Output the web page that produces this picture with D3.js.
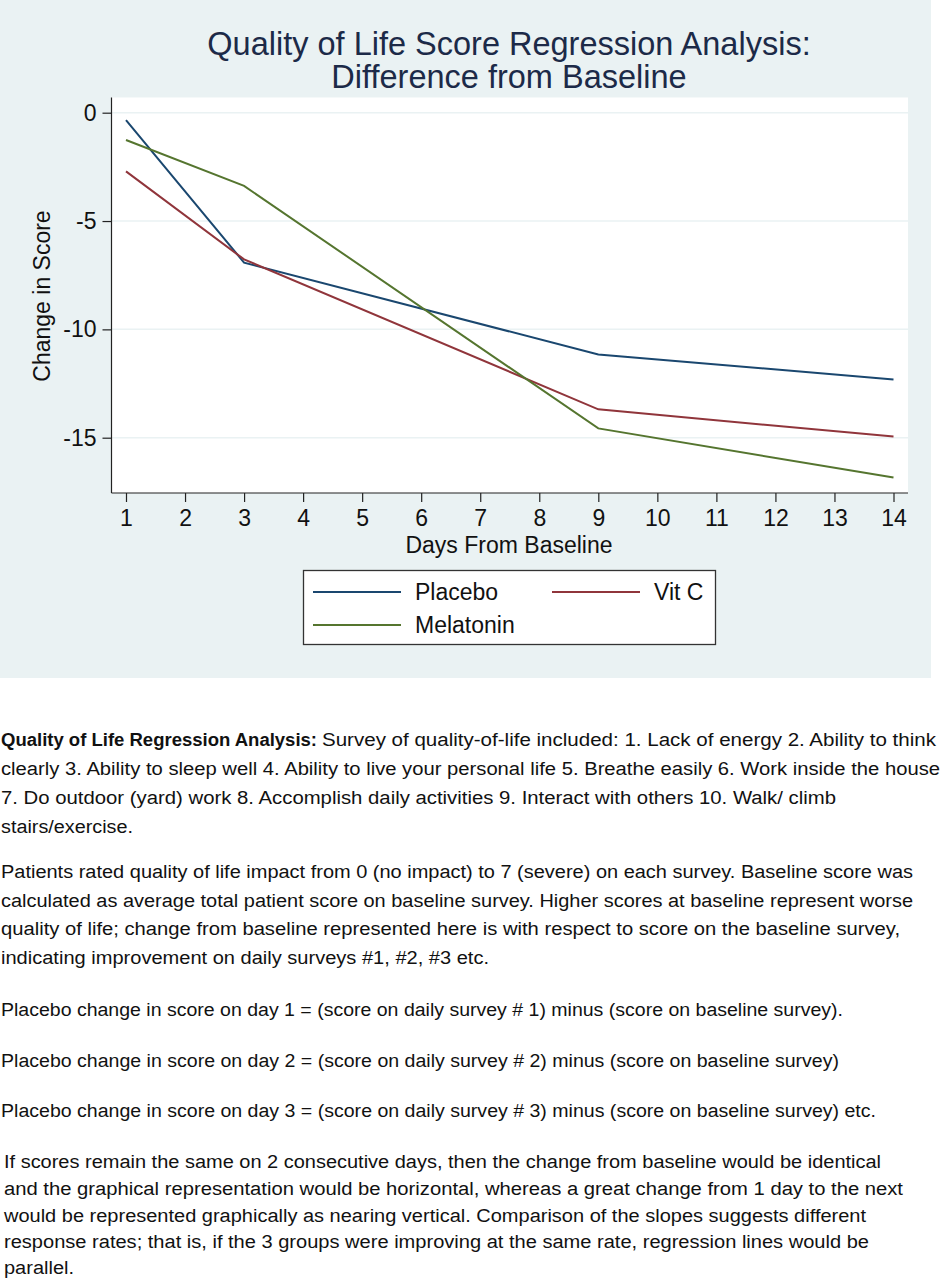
<!DOCTYPE html>
<html>
<head>
<meta charset="utf-8">
<script src="https://cdn.jsdelivr.net/npm/d3@7"></script>
<style>
  body { margin: 0; background: #ffffff; }
  svg { display: block; }
</style>
</head>
<body>
<svg id="viz"></svg>
<script>

// data (knots at days 1, 3, 9, 14)
var days = [1, 3, 9, 14];
var placebo = [-0.34, -6.92, -11.16, -12.31];
var vitC = [-2.71, -6.77, -13.69, -14.95];
var melatonin = [-1.26, -3.38, -14.57, -16.84];

var seriesNames = ["Placebo", "Vit C", "Melatonin"];
var seriesColors = ["#1a476f", "#90353b", "#55752f"];

var xTicks = [1, 2, 3, 4, 5, 6, 7, 8, 9, 10, 11, 12, 13, 14];
var yTicks = [0, -5, -10, -15];

var titleLines = ["Quality of Life Score Regression Analysis:", "Difference from Baseline"];
var xTitle = "Days From Baseline";
var yTitle = "Change in Score";

// text under the chart, one entry per printed line
var noteBold = "Quality of Life Regression Analysis:";
var noteLines = [
  "Survey of quality-of-life included: 1. Lack of energy 2. Ability to think",
  "clearly 3. Ability to sleep well 4. Ability to live your personal life 5. Breathe easily 6. Work inside the house",
  "7. Do outdoor (yard) work 8. Accomplish daily activities 9. Interact with others 10. Walk/ climb",
  "stairs/exercise.",
  "Patients rated quality of life impact from 0 (no impact) to 7 (severe) on each survey. Baseline score was",
  "calculated as average total patient score on baseline survey. Higher scores at baseline represent worse",
  "quality of life; change from baseline represented here is with respect to score on the baseline survey,",
  "indicating improvement on daily surveys #1, #2, #3 etc.",
  "Placebo change in score on day 1 = (score on daily survey # 1) minus (score on baseline survey).",
  "Placebo change in score on day 2 = (score on daily survey # 2) minus (score on baseline survey)",
  "Placebo change in score on day 3 = (score on daily survey # 3) minus (score on baseline survey) etc.",
  "If scores remain the same on 2 consecutive days, then the change from baseline would be identical",
  "and the graphical representation would be horizontal, whereas a great change from 1 day to the next",
  "would be represented graphically as nearing vertical. Comparison of the slopes suggests different",
  "response rates; that is, if the 3 groups were improving at the same rate, regression lines would be",
  "parallel."
];

// layout of those lines: [left, right, baseline]
var noteLayout = [
  [322, 936, 746], [1, 940, 775], [1, 836, 804], [1, 133, 833],
  [1, 913, 878], [1, 913, 907], [1, 900, 935], [1, 489, 964],
  [1, 843, 1016],
  [1, 839, 1067],
  [1, 876, 1117],
  [4, 881, 1168], [4, 903, 1195], [4, 866, 1222], [4, 869, 1248], [4, 74, 1274]
];

var width = 945;
var height = 1280;

var plotLeft = 111.5, plotRight = 908, plotTop = 97.5, plotBottom = 493;

var svg = d3.select("#viz")
  .attr("width", width)
  .attr("height", height);

// graph region
svg.append("rect")
  .attr("x", 0).attr("y", 0)
  .attr("width", 931).attr("height", 678)
  .attr("fill", "#eaf2f3");

// plot region
svg.append("rect")
  .attr("x", plotLeft).attr("y", plotTop)
  .attr("width", plotRight - plotLeft).attr("height", plotBottom - plotTop)
  .attr("fill", "#ffffff");

var x = d3.scaleLinear().domain([1, 14]).range([126, 893.5]);
var y = d3.scaleLinear().domain([0, -15]).range([112.7, 437.7]);

// grid
svg.append("g").selectAll("line")
  .data(yTicks).enter()
  .append("line")
  .attr("x1", plotLeft).attr("x2", plotRight)
  .attr("y1", function(d) { return y(d); })
  .attr("y2", function(d) { return y(d); })
  .attr("stroke", "#eaf2f3")
  .attr("stroke-width", 1.5);

// Title
svg.append("g").selectAll("text")
  .data(titleLines).enter()
  .append("text")
  .attr("x", 509)
  .attr("y", function(d, i) { return 55 + i * 33; })
  .attr("text-anchor", "middle")
  .style("font-family", "'Liberation Sans', Arial, sans-serif")
  .style("font-size", "32.5px")
  .attr("fill", "#1c2a48")
  .text(function(d) { return d; });

// Y axis
var yAxis = svg.append("g")
  .attr("transform", "translate(" + plotLeft + ",0)")
  .call(d3.axisLeft(y).tickValues(yTicks).tickSize(9).tickPadding(6)
    .tickFormat(function(d) { return String(d); }));
yAxis.select(".domain").remove();
yAxis.selectAll(".tick line").attr("stroke", "#222").attr("stroke-width", 1.2);
yAxis.selectAll(".tick text")
  .style("font-family", "'Liberation Sans', Arial, sans-serif")
  .style("font-size", "23px")
  .attr("fill", "#111");

svg.append("line")
  .attr("x1", plotLeft).attr("x2", plotLeft)
  .attr("y1", plotTop).attr("y2", plotBottom)
  .attr("stroke", "#222").attr("stroke-width", 1.2);

svg.append("text")
  .attr("transform", "translate(50,296) rotate(-90)")
  .attr("text-anchor", "middle")
  .style("font-family", "'Liberation Sans', Arial, sans-serif")
  .style("font-size", "23px")
  .attr("fill", "#111")
  .text(yTitle);

// X axis
var xAxis = svg.append("g")
  .attr("transform", "translate(0," + plotBottom + ")")
  .call(d3.axisBottom(x).tickValues(xTicks).tickSize(9).tickPadding(8)
    .tickFormat(function(d) { return String(d); }));
xAxis.select(".domain").remove();
xAxis.selectAll(".tick line").attr("stroke", "#222").attr("stroke-width", 1.2);
xAxis.selectAll(".tick text")
  .style("font-family", "'Liberation Sans', Arial, sans-serif")
  .style("font-size", "23px")
  .attr("fill", "#111");

svg.append("line")
  .attr("x1", plotLeft).attr("x2", plotRight)
  .attr("y1", plotBottom).attr("y2", plotBottom)
  .attr("stroke", "#222").attr("stroke-width", 1.2);

svg.append("text")
  .attr("x", 509).attr("y", 553)
  .attr("text-anchor", "middle")
  .style("font-family", "'Liberation Sans', Arial, sans-serif")
  .style("font-size", "23px")
  .attr("fill", "#111")
  .text(xTitle);

// Lines
var seriesData = [placebo, vitC, melatonin];

var line = d3.line()
  .x(function(d, i) { return x(days[i]); })
  .y(function(d) { return y(d); });

svg.append("g").selectAll("path")
  .data(seriesData).enter()
  .append("path")
  .attr("d", line)
  .attr("fill", "none")
  .attr("stroke", function(d, i) { return seriesColors[i]; })
  .attr("stroke-width", 2);

// Legend
var legend = svg.append("g");
legend.append("rect")
  .attr("x", 303.5).attr("y", 570.5)
  .attr("width", 412).attr("height", 74)
  .attr("fill", "#ffffff")
  .attr("stroke", "#333")
  .attr("stroke-width", 1.3);

var legendPos = [[313, 592], [552, 592], [313, 625]];

var items = legend.selectAll(".item")
  .data(seriesNames).enter()
  .append("g")
  .attr("class", "item")
  .attr("transform", function(d, i) {
    return "translate(" + legendPos[i][0] + "," + legendPos[i][1] + ")";
  });
items.append("line")
  .attr("x1", 0).attr("x2", 88)
  .attr("stroke", function(d, i) { return seriesColors[i]; })
  .attr("stroke-width", 2);
items.append("text")
  .attr("x", 102).attr("y", 8)
  .style("font-family", "'Liberation Sans', Arial, sans-serif")
  .style("font-size", "23px")
  .attr("fill", "#111")
  .text(function(d) { return d; });

// Notes under the chart
var notes = svg.append("g")
  .style("font-family", "'Liberation Sans', Arial, sans-serif")
  .style("font-size", "18px")
  .attr("fill", "#111");

notes.append("text")
  .attr("x", 1).attr("y", 746)
  .attr("textLength", 316)
  .attr("lengthAdjust", "spacingAndGlyphs")
  .style("font-weight", "bold")
  .text(noteBold);

notes.selectAll(".note")
  .data(noteLines).enter()
  .append("text")
  .attr("class", "note")
  .attr("x", function(d, i) { return noteLayout[i][0]; })
  .attr("y", function(d, i) { return noteLayout[i][2]; })
  .attr("textLength", function(d, i) { return noteLayout[i][1] - noteLayout[i][0]; })
  .attr("lengthAdjust", "spacingAndGlyphs")
  .text(function(d) { return d; });

</script>
</body>
</html>
